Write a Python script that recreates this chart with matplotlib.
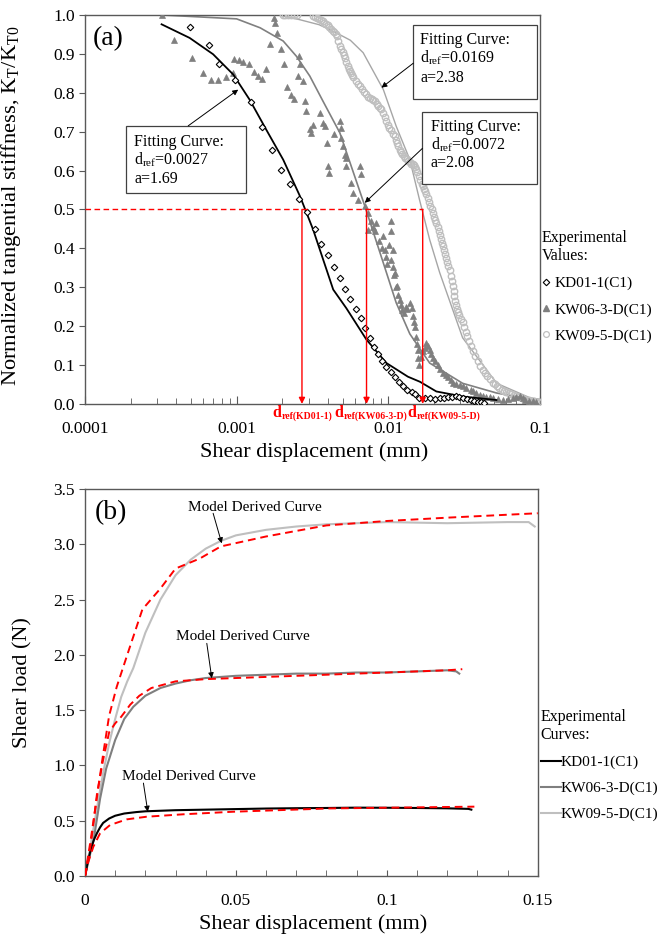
import matplotlib
matplotlib.use('Agg')
import matplotlib.pyplot as plt
from matplotlib.lines import Line2D
from matplotlib.patches import Rectangle
from matplotlib.ticker import FixedLocator, LogLocator, NullFormatter, MultipleLocator, FuncFormatter

plt.rcParams['font.family'] = ['Liberation Serif', 'DejaVu Serif']
plt.rcParams['mathtext.fontset'] = 'custom'
plt.rcParams['mathtext.rm'] = 'Liberation Serif'
plt.rcParams['mathtext.it'] = 'Liberation Serif:italic'
plt.rcParams['mathtext.bf'] = 'Liberation Serif:bold'

# ---------------- Panel (a) data ----------------
kd01_x = [0.00049, 0.000657, 0.000764, 0.000975, 0.00124, 0.00148, 0.00172, 0.00195, 0.00225,
          0.00258, 0.00292, 0.00327, 0.00358, 0.00398, 0.00438, 0.0048, 0.00523, 0.00561, 0.00609,
          0.00659, 0.00708, 0.0076, 0.00812, 0.00863, 0.00917, 0.00975, 0.0104, 0.0111, 0.0118,
          0.0125, 0.0134, 0.0143, 0.015, 0.0161, 0.0175, 0.019, 0.0205, 0.022, 0.0235, 0.025,
          0.0265, 0.028, 0.0295, 0.031, 0.033, 0.035, 0.037, 0.039, 0.041, 0.043]
kd01_y = [0.969, 0.922, 0.874, 0.832, 0.776, 0.712, 0.654, 0.601, 0.566,
          0.527, 0.493, 0.450, 0.411, 0.384, 0.353, 0.324, 0.295, 0.269, 0.244,
          0.220, 0.195, 0.170, 0.147, 0.129, 0.111, 0.096, 0.083, 0.070, 0.057,
          0.046, 0.036, 0.030, 0.025, 0.015, 0.014, 0.014, 0.013, 0.014, 0.016, 0.018,
          0.019, 0.020, 0.018, 0.015, 0.012, 0.009, 0.007, 0.005, 0.004, 0.003]

kw06_x = [0.00032, 0.000386, 0.000505, 0.000597, 0.000673, 0.000757, 0.000846, 0.00095, 0.00096,
          0.00103, 0.00111, 0.00121, 0.0013, 0.00139, 0.00148, 0.00156, 0.00176, 0.0018, 0.00184,
          0.00166, 0.00195, 0.00205, 0.00216, 0.0023, 0.00239, 0.00259, 0.00264, 0.00255, 0.00275,
          0.00282, 0.00289, 0.0032, 0.00304, 0.0031, 0.00354, 0.00369, 0.00382, 0.00392, 0.00438,
          0.00398, 0.0041, 0.0048, 0.00492, 0.0049, 0.005, 0.00518, 0.0053, 0.0053, 0.0065, 0.0066,
          0.00573, 0.0059, 0.00634, 0.0070, 0.00738, 0.00776, 0.0074, 0.0079, 0.00837, 0.0104,
          0.0105, 0.0093, 0.0102, 0.0107, 0.0095, 0.00975, 0.0105, 0.0108, 0.011, 0.0111, 0.0115,
          0.0119, 0.0124, 0.0131, 0.0143, 0.0146, 0.0150, 0.0153, 0.0157, 0.0157, 0.0161, 0.017,
          0.0179, 0.0188, 0.0198, 0.0213, 0.023, 0.0248, 0.0268, 0.0297, 0.0328, 0.0363, 0.0402,
          0.044, 0.0492, 0.0572, 0.0667, 0.0738, 0.08, 0.095,
          0.0082, 0.0087, 0.0091, 0.0099, 0.0113, 0.0117, 0.0121, 0.0128, 0.0134, 0.0139, 0.0148,
          0.0155, 0.0165, 0.0175, 0.0183, 0.0193, 0.0205, 0.022, 0.024, 0.026, 0.028, 0.031,
          0.035, 0.038, 0.042, 0.047, 0.053, 0.062, 0.07, 0.077, 0.085, 0.09]
kw06_y = [1.0, 0.935, 0.890, 0.850, 0.832, 0.834, 0.840, 0.851, 0.887,
          0.884, 0.879, 0.873, 0.854, 0.843, 0.836, 0.862, 0.993, 0.98, 0.954,
          0.926, 0.913, 0.875, 0.815, 0.793, 0.783, 0.894, 0.873, 0.843, 0.830,
          0.778, 0.753, 0.718, 0.707, 0.697, 0.748, 0.723, 0.714, 0.671, 0.695,
          0.611, 0.594, 0.727, 0.71, 0.684, 0.662, 0.641, 0.633, 0.611, 0.611, 0.59,
          0.568, 0.542, 0.525, 0.508, 0.491, 0.469, 0.448, 0.456, 0.465, 0.469,
          0.444, 0.431, 0.409, 0.396, 0.396, 0.379, 0.371, 0.353, 0.332, 0.336, 0.302,
          0.268, 0.242, 0.25, 0.246, 0.225, 0.199, 0.173, 0.139, 0.118, 0.100, 0.135,
          0.156, 0.139, 0.118, 0.100, 0.079, 0.070, 0.053, 0.049, 0.040, 0.032, 0.023,
          0.019, 0.015, 0.010, 0.015, 0.021, 0.010, 0.006,
          0.445, 0.42, 0.40, 0.36, 0.30, 0.28, 0.255, 0.235, 0.245, 0.26, 0.21,
          0.155, 0.12, 0.145, 0.15, 0.128, 0.11, 0.09, 0.075, 0.062, 0.05, 0.045,
          0.036, 0.028, 0.02, 0.017, 0.012, 0.012, 0.018, 0.015, 0.008, 0.007]

kw09_x = [0.00203, 0.0021, 0.0022, 0.0023, 0.0024, 0.0025, 0.0032, 0.0034, 0.0036, 0.0038, 0.0040,
          0.0042, 0.0044, 0.0046, 0.0048, 0.0050, 0.0052, 0.0054, 0.0056, 0.0058, 0.0061, 0.0065,
          0.0069, 0.0074, 0.0078, 0.0082, 0.0086, 0.0090, 0.0095, 0.0100, 0.0105, 0.0111, 0.0115,
          0.0119, 0.0124, 0.013, 0.0136, 0.0142, 0.0148, 0.0153, 0.0160, 0.0166, 0.0172, 0.0179,
          0.0186, 0.0194, 0.0201, 0.0208, 0.0216, 0.0223, 0.023, 0.0238, 0.0246, 0.0255, 0.0262,
          0.0270, 0.0276, 0.0284, 0.0295, 0.031, 0.0325, 0.034, 0.0363, 0.039, 0.042, 0.045, 0.049,
          0.052, 0.056, 0.060, 0.065, 0.070, 0.076, 0.082, 0.088, 0.094, 0.1,
          0.0033, 0.0035, 0.0037, 0.0039, 0.0041, 0.0043, 0.0045, 0.0047, 0.0049, 0.0051, 0.0053,
          0.0055, 0.0057, 0.0059, 0.0063, 0.0067, 0.0071, 0.0076, 0.008, 0.0084, 0.0088, 0.0092,
          0.0097, 0.0102, 0.0108, 0.0113, 0.0117, 0.0121, 0.0127, 0.0133, 0.0139, 0.0145, 0.015,
          0.0156, 0.0163, 0.0169, 0.0175, 0.0182, 0.019, 0.0197, 0.0204, 0.0212, 0.0219, 0.0226,
          0.0234, 0.0242, 0.025, 0.0258, 0.0266, 0.0273, 0.028, 0.029, 0.0302, 0.0317, 0.0332,
          0.035, 0.0376, 0.0405, 0.0435, 0.047, 0.0505, 0.054, 0.058, 0.0625, 0.0675, 0.073,
          0.079, 0.085, 0.091, 0.097]
kw09_y = [1.0, 1.0, 1.0, 1.0, 1.0, 1.0, 0.997, 0.993, 0.987, 0.98, 0.973,
          0.965, 0.955, 0.945, 0.92, 0.905, 0.89, 0.87, 0.855, 0.845, 0.83, 0.817,
          0.803, 0.79, 0.785, 0.778, 0.765, 0.757, 0.737, 0.718, 0.703, 0.688, 0.67,
          0.654, 0.643, 0.633, 0.625, 0.618, 0.614, 0.605, 0.585, 0.565, 0.553, 0.54,
          0.52, 0.5, 0.48, 0.465, 0.445, 0.425, 0.405, 0.385, 0.365, 0.345, 0.315,
          0.29, 0.265, 0.245, 0.228, 0.21, 0.185, 0.163, 0.135, 0.11, 0.088, 0.072, 0.055,
          0.047, 0.037, 0.03, 0.025, 0.02, 0.015, 0.011, 0.008, 0.006, 0.004,
          0.995, 0.99, 0.984, 0.977, 0.969, 0.96, 0.95, 0.932, 0.912, 0.898, 0.88,
          0.862, 0.85, 0.84, 0.823, 0.81, 0.797, 0.787, 0.782, 0.772, 0.761, 0.748,
          0.728, 0.71, 0.695, 0.679, 0.662, 0.648, 0.638, 0.629, 0.621, 0.616, 0.61,
          0.595, 0.575, 0.559, 0.547, 0.53, 0.51, 0.49, 0.472, 0.455, 0.435, 0.415,
          0.395, 0.375, 0.355, 0.33, 0.302, 0.277, 0.255, 0.236, 0.219, 0.197, 0.174,
          0.15, 0.122, 0.098, 0.08, 0.063, 0.051, 0.041, 0.033, 0.027, 0.022, 0.017,
          0.013, 0.009, 0.007, 0.005]

fit_kd01_x = [0.00032, 0.00049, 0.0007, 0.00095, 0.00122, 0.00157, 0.00203, 0.00262, 0.0032,
              0.00434, 0.0053, 0.0072, 0.00975, 0.0135, 0.0162, 0.0208, 0.0312, 0.0518]
fit_kd01_y = [0.976, 0.941, 0.899, 0.847, 0.782, 0.705, 0.628, 0.534, 0.448,
              0.294, 0.246, 0.165, 0.105, 0.070, 0.057, 0.032, 0.019, 0.010]
fit_kw06_x = [0.00032, 0.001, 0.00143, 0.00203, 0.00248, 0.00304, 0.00372, 0.0048, 0.0070,
              0.0093, 0.0113, 0.0139, 0.0188, 0.031, 0.052, 0.095]
fit_kw06_y = [1.0, 0.99, 0.967, 0.933, 0.894, 0.843, 0.778, 0.697, 0.51,
              0.362, 0.26, 0.18, 0.105, 0.053, 0.028, 0.010]
fit_kw09_x = [0.002, 0.0026, 0.0035, 0.0045, 0.00563, 0.00684, 0.0093, 0.0113, 0.0139, 0.0161,
              0.0188, 0.0219, 0.031, 0.052, 0.086, 0.1]
fit_kw09_y = [0.998, 0.988, 0.975, 0.955, 0.935, 0.903, 0.808, 0.714, 0.628, 0.525,
              0.422, 0.337, 0.17, 0.053, 0.016, 0.012]

dref = [0.0027, 0.0072, 0.0169]
dref_subs = ['ref(KD01-1)', 'ref(KW06-3-D)', 'ref(KW09-5-D)']
fit_a = [1.69, 2.08, 2.38]
xticks_a = [0.0001, 0.001, 0.01, 0.1]
xticklabels_a = ['0.0001', '0.001', '0.01', '0.1']
yticks_a = [0.0, 0.1, 0.2, 0.3, 0.4, 0.5, 0.6, 0.7, 0.8, 0.9, 1.0]

# ---------------- Panel (b) data ----------------
b_kd01_x = [0, 0.001, 0.002, 0.003, 0.004, 0.005, 0.006, 0.008, 0.01, 0.013, 0.017, 0.02, 0.025,
            0.03, 0.04, 0.05, 0.06, 0.07, 0.08, 0.09, 0.1, 0.11, 0.12, 0.127, 0.128]
b_kd01_y = [0, 0.14, 0.25, 0.33, 0.39, 0.44, 0.48, 0.52, 0.545, 0.565, 0.578, 0.585, 0.59,
            0.595, 0.60, 0.605, 0.61, 0.613, 0.615, 0.618, 0.617, 0.615, 0.612, 0.607, 0.60]
b_kw06_x = [0, 0.003, 0.005, 0.007, 0.01, 0.013, 0.016, 0.02, 0.025, 0.03, 0.035, 0.04, 0.05,
            0.06, 0.07, 0.08, 0.09, 0.1, 0.11, 0.12, 0.123, 0.124]
b_kw06_y = [0, 0.35, 0.7, 0.97, 1.23, 1.42, 1.53, 1.63, 1.7, 1.74, 1.77, 1.79, 1.81,
            1.82, 1.83, 1.83, 1.84, 1.84, 1.85, 1.86, 1.85, 1.83]
b_kw09_x = [0, 0.002, 0.004, 0.006, 0.008, 0.01, 0.012, 0.014, 0.016, 0.02, 0.025, 0.03, 0.035,
            0.04, 0.045, 0.05, 0.06, 0.07, 0.08, 0.1, 0.12, 0.14, 0.147, 0.149]
b_kw09_y = [0, 0.3, 0.62, 0.93, 1.2, 1.42, 1.62, 1.76, 1.88, 2.2, 2.5, 2.72, 2.86,
            2.96, 3.03, 3.08, 3.13, 3.16, 3.18, 3.2, 3.19, 3.2, 3.2, 3.16]
m_kd01_x = [0, 0.001, 0.00276, 0.005, 0.0083, 0.0138, 0.0204, 0.0326, 0.049, 0.081, 0.129]
m_kd01_y = [0, 0.12, 0.265, 0.386, 0.461, 0.512, 0.536, 0.558, 0.581, 0.611, 0.627]
m_kw06_x = [0, 0.002, 0.004, 0.006, 0.008, 0.01, 0.012, 0.015, 0.018, 0.022, 0.03, 0.04, 0.05,
            0.06, 0.08, 0.1, 0.12, 0.125]
m_kw06_y = [0, 0.3, 0.75, 1.05, 1.3, 1.38, 1.44, 1.55, 1.63, 1.7, 1.76, 1.78, 1.79,
            1.80, 1.82, 1.84, 1.86, 1.87]
m_kw09_x = [0, 0.002, 0.004, 0.006, 0.008, 0.0105, 0.014, 0.019, 0.025, 0.03, 0.038, 0.045,
            0.06, 0.08, 0.1, 0.12, 0.15]
m_kw09_y = [0, 0.35, 0.72, 1.1, 1.45, 1.71, 2.0, 2.41, 2.6, 2.78, 2.87, 2.98,
            3.07, 3.17, 3.21, 3.24, 3.28]

labels = ['KD01-1(C1)', 'KW06-3-D(C1)', 'KW09-5-D(C1)']

# ---------------- styling ----------------
SPINE = '#595959'
C_DARK = '#7f7f7f'
C_LIGHT = '#bfbfbf'
TICK_FS = 12.5
LABEL_FS = 16
ANN_FS = 11.5

fig = plt.figure(figsize=(6.59, 9.35), dpi=100)
ax1 = fig.add_axes([0.129, 0.568, 0.690, 0.416])
ax2 = fig.add_axes([0.129, 0.0631, 0.687, 0.414])

for ax in (ax1, ax2):
    for s in ax.spines.values():
        s.set_color(SPINE)
        s.set_linewidth(1.0)
    ax.tick_params(axis='x', which='both', direction='in', color=SPINE, labelsize=TICK_FS, pad=12)
    ax.tick_params(axis='y', which='both', direction='out', color=SPINE, labelsize=TICK_FS, length=4)

# ---------------- Panel (a) ----------------
ax1.set_xscale('log')
ax1.plot(fit_kw09_x, fit_kw09_y, color='#a6a6a6', lw=1.0, zorder=2)
ax1.plot(fit_kw06_x, fit_kw06_y, color='#808080', lw=1.2, zorder=2)
ax1.plot(fit_kd01_x, fit_kd01_y, color='black', lw=1.3, zorder=4)
ax1.plot(kw09_x, kw09_y, ls='none', marker='o', ms=4.6, mfc='none', mec=C_LIGHT, mew=1.0, zorder=3)
ax1.plot(kw06_x, kw06_y, ls='none', marker='^', ms=5, mfc=C_DARK, mec=C_DARK, mew=0.5, zorder=3)
ax1.plot(kd01_x, kd01_y, ls='none', marker='D', ms=3.3, mfc='white', mec='black', mew=0.8, zorder=5)

ax1.set_xlim(xticks_a[0], xticks_a[-1])
ax1.set_ylim(0, 1)
ax1.xaxis.set_major_locator(FixedLocator(xticks_a))
ax1.set_xticklabels(xticklabels_a)
ax1.xaxis.set_minor_locator(LogLocator(base=10, subs=range(2, 10)))
ax1.xaxis.set_minor_formatter(NullFormatter())
ax1.tick_params(axis='x', which='major', length=6)
ax1.tick_params(axis='x', which='minor', length=4)
ax1.set_yticks(yticks_a)
ax1.yaxis.set_major_formatter(FuncFormatter(lambda v, p: f'{v:.1f}'))
ax1.set_xlabel('Shear displacement (mm)', fontsize=LABEL_FS)
ax1.xaxis.set_label_coords(0.503, -0.098)
ax1.set_ylabel('Normalized tangential stiffness, K$_\\mathregular{T}$/K$_\\mathregular{T0}$', fontsize=16.2)
ax1.yaxis.set_label_coords(-0.136, 0.51)

# red reference lines
ax1.plot([xticks_a[0], dref[-1]], [0.5, 0.5], color='red', lw=1.0, ls=(0, (4, 2.5)), zorder=6)
for d in dref:
    ax1.annotate('', xy=(d, 0.0), xytext=(d, 0.5),
                 arrowprops=dict(arrowstyle='-|>', color='red', lw=1.0, mutation_scale=9,
                                 shrinkA=0, shrinkB=0), zorder=6)

# red labels under the axis
lbl_pos = [0.413, 0.549, 0.710]
for xp, sub in zip(lbl_pos, dref_subs):
    t = ax1.text(xp, -0.004, 'd', transform=ax1.transAxes, color='red', fontweight='bold',
                 fontsize=11.5, va='top', ha='left')
    ax1.annotate(sub, xy=(1.0, 0.32), xycoords=t, color='red', fontweight='bold',
                 fontsize=7.0, va='center', ha='left')

# annotation boxes
boxes = [((0.090, 0.542), 0.264, 0.173), ((0.742, 0.565), 0.252, 0.186), ((0.722, 0.783), 0.272, 0.190)]
for (bx, by), bw, bh in boxes:
    ax1.add_patch(Rectangle((bx, by), bw, bh, transform=ax1.transAxes, fc='white',
                            ec='#404040', lw=0.9, zorder=7))
text_pos = [(0.108, [0.674, 0.627, 0.578]), (0.760, [0.713, 0.666, 0.619]), (0.737, [0.936, 0.889, 0.837])]
for (tx, tys), d, a in zip(text_pos, dref, fit_a):
    lines = ['Fitting Curve:', 'd$_\\mathregular{ref}$=' + f'{d:.4f}', f'a={a:.2f}']
    for ty, s in zip(tys, lines):
        ax1.text(tx, ty, s, transform=ax1.transAxes, fontsize=ANN_FS, va='center', ha='left', zorder=8)

arrow_a = [((0.227, 0.715), (0.001025, 0.808)), ((0.742, 0.657), (0.00701, 0.517)),
           ((0.722, 0.876), (0.00903, 0.813))]
for (sx, sy), (ex, ey) in arrow_a:
    ax1.annotate('', xy=(ex, ey), xytext=(sx, sy), textcoords='axes fraction',
                 arrowprops=dict(arrowstyle='-|>', color='black', lw=0.7, mutation_scale=8,
                                 shrinkA=0, shrinkB=0), zorder=8)

ax1.text(0.017, 0.938, '(a)', transform=ax1.transAxes, fontsize=20, va='center', ha='left')

h1 = [Line2D([], [], ls='none', marker='D', ms=3.3, mfc='white', mec='black', mew=0.8),
      Line2D([], [], ls='none', marker='^', ms=5, mfc=C_DARK, mec=C_DARK),
      Line2D([], [], ls='none', marker='o', ms=4.2, mfc='none', mec=C_LIGHT, mew=0.9)]
leg1 = ax1.legend(h1, labels, title='Experimental\nValues:', loc='upper left',
                  bbox_to_anchor=(0.998, 0.455), frameon=False, fontsize=11, title_fontsize=11.5,
                  handlelength=0.6, handletextpad=0.2, labelspacing=0.8, borderaxespad=0,
                  borderpad=0.2, alignment='left')

# ---------------- Panel (b) ----------------
ax2.plot(b_kw09_x, b_kw09_y, color=C_LIGHT, lw=1.5, zorder=2)
ax2.plot(b_kw06_x, b_kw06_y, color='#7f7f7f', lw=1.5, zorder=2)
ax2.plot(b_kd01_x, b_kd01_y, color='black', lw=1.5, zorder=2)
for mx, my in ((m_kw09_x, m_kw09_y), (m_kw06_x, m_kw06_y), (m_kd01_x, m_kd01_y)):
    ax2.plot(mx, my, color='#ff0000', lw=1.4, ls=(0, (4, 2.5)), zorder=3)

ax2.set_xlim(0, 0.15)
ax2.set_ylim(0, 3.5)
ax2.xaxis.set_major_locator(FixedLocator([0, 0.05, 0.1, 0.15]))
ax2.set_xticklabels(['0', '0.05', '0.1', '0.15'])
ax2.xaxis.set_minor_locator(MultipleLocator(0.01))
ax2.tick_params(axis='x', which='both', length=4)
ax2.yaxis.set_major_locator(MultipleLocator(0.5))
ax2.yaxis.set_major_formatter(FuncFormatter(lambda v, p: f'{v:.1f}'))
ax2.set_xlabel('Shear displacement (mm)', fontsize=LABEL_FS)
ax2.xaxis.set_label_coords(0.503, -0.1)
ax2.set_ylabel('Shear load (N)', fontsize=LABEL_FS)
ax2.yaxis.set_label_coords(-0.115, 0.5)

ax2.text(0.022, 0.94, '(b)', transform=ax2.transAxes, fontsize=20, va='center', ha='left')

ann_b = [((0.228, 0.952), (0.283, 0.937), (0.0453, 3.008)),
         ((0.202, 0.618), (0.269, 0.601), (0.0420, 1.788)),
         ((0.081, 0.258), (0.129, 0.240), (0.0208, 0.581))]
for (tx, ty), (sx, sy), (ex, ey) in ann_b:
    ax2.text(tx, ty, 'Model Derived Curve', transform=ax2.transAxes, fontsize=11, va='center', ha='left')
    ax2.annotate('', xy=(ex, ey), xytext=(sx, sy), textcoords='axes fraction',
                 arrowprops=dict(arrowstyle='-|>', color='black', lw=0.7, mutation_scale=8,
                                 shrinkA=0, shrinkB=0), zorder=8)

h2 = [Line2D([], [], color='black', lw=1.5), Line2D([], [], color='#7f7f7f', lw=1.5),
      Line2D([], [], color=C_LIGHT, lw=1.5)]
leg2 = ax2.legend(h2, labels, title='Experimental\nCurves:', loc='upper left',
                  bbox_to_anchor=(1.0, 0.44), frameon=False, fontsize=11, title_fontsize=11.5,
                  handlelength=1.3, handletextpad=0.0, labelspacing=0.8, borderaxespad=0,
                  borderpad=0.2, alignment='left')

fig.savefig('out.png', dpi=100)
